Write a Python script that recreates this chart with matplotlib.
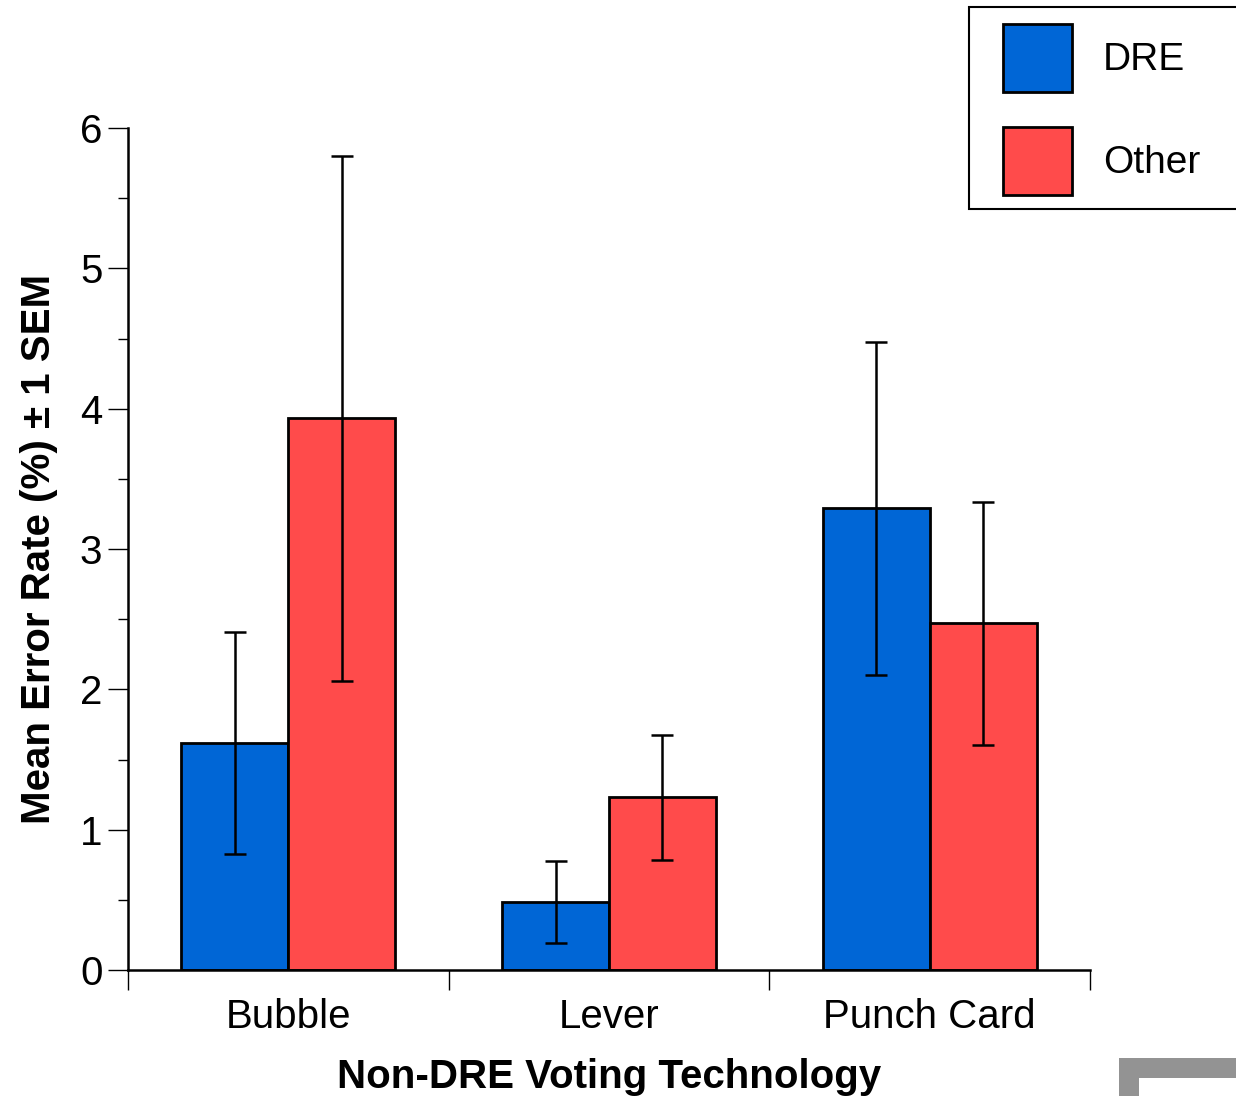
import matplotlib
matplotlib.use("Agg")
import matplotlib.pyplot as plt
from matplotlib.patches import Rectangle
import numpy as np

categories = ["Bubble", "Lever", "Punch Card"]
series_names = ["DRE", "Other"]
dre_means = [1.62, 0.485, 3.29]
dre_sem = [0.79, 0.295, 1.185]
other_means = [3.93, 1.23, 2.47]
other_sem = [1.87, 0.445, 0.865]
colors = ["#0066D6", "#FF4B4B"]

plt.rcParams['font.family'] = ['Liberation Sans', 'DejaVu Sans']

W, H = 1236, 1096
fig = plt.figure(figsize=(W / 100, H / 100), dpi=100)
ax = fig.add_axes([128 / W, 1 - 970 / H, (1090 - 128) / W, (970 - 128) / H])

x = np.arange(len(categories)) + 0.5
bw = 1 / 3
ax.bar(x - bw, dre_means, width=bw, align='edge', color=colors[0],
       edgecolor='black', linewidth=2.0, label=series_names[0], zorder=2)
ax.bar(x, other_means, width=bw, align='edge', color=colors[1],
       edgecolor='black', linewidth=2.0, label=series_names[1], zorder=2)
ax.errorbar(x - bw / 2, dre_means, yerr=dre_sem, fmt='none', ecolor='black',
            elinewidth=1.8, capsize=8, capthick=1.8, zorder=3)
ax.errorbar(x + bw / 2, other_means, yerr=other_sem, fmt='none', ecolor='black',
            elinewidth=1.8, capsize=8, capthick=1.8, zorder=3)

ax.set_xlim(0, 3)
ax.set_ylim(0, 6)
ax.spines['top'].set_visible(False)
ax.spines['right'].set_visible(False)
ax.spines['left'].set_linewidth(1.8)
ax.spines['bottom'].set_linewidth(1.8)

ax.set_yticks(range(0, 7))
ax.set_yticks(np.arange(0.5, 6, 1.0), minor=True)
ax.tick_params(axis='y', which='major', length=14.4, width=1.0, labelsize=29, pad=4)
ax.tick_params(axis='y', which='minor', length=7.2, width=1.0)

ax.set_xticks([0, 1, 2, 3])
ax.set_xticklabels([])
ax.set_xticks(x, minor=True)
ax.set_xticklabels(categories, minor=True)
ax.tick_params(axis='x', which='major', length=14.4, width=1.0)
ax.tick_params(axis='x', which='minor', length=0, labelsize=29, pad=20)

ax.set_xlabel("Non-DRE Voting Technology", fontsize=29, fontweight='bold')
ax.xaxis.set_label_coords(0.5, -0.105)
ax.set_ylabel("Mean Error Rate (%) ± 1 SEM", fontsize=29, fontweight='bold', va='center')
ax.yaxis.set_label_coords(-0.092, 0.5)

# legend frame
fig.patches.append(Rectangle((969 / W, 1 - 209 / H), (1245 - 969) / W, (209 - 7) / H,
                             transform=fig.transFigure, facecolor='white',
                             edgecolor='black', linewidth=1.5, zorder=5))
leg = fig.legend(loc='upper left', bbox_to_anchor=(972 / W, 1 + 7 / H),
                 frameon=False, fontsize=28, handlelength=1.77, handleheight=2.32,
                 labelspacing=0.88, handletextpad=0.8, borderpad=0.3)
leg.set_zorder(6)
for p in leg.get_patches():
    p.set_linewidth(2.0)

# gray corner artifact
fig.patches.append(Rectangle((1119 / W, 1 - 1078 / H), (1240 - 1119) / W, 20 / H,
                             transform=fig.transFigure, facecolor='#939393',
                             edgecolor='none', zorder=5))
fig.patches.append(Rectangle((1119 / W, 0), 20 / W, (1096 - 1058) / H,
                             transform=fig.transFigure, facecolor='#939393',
                             edgecolor='none', zorder=5))

fig.savefig("out.png", dpi=100)
